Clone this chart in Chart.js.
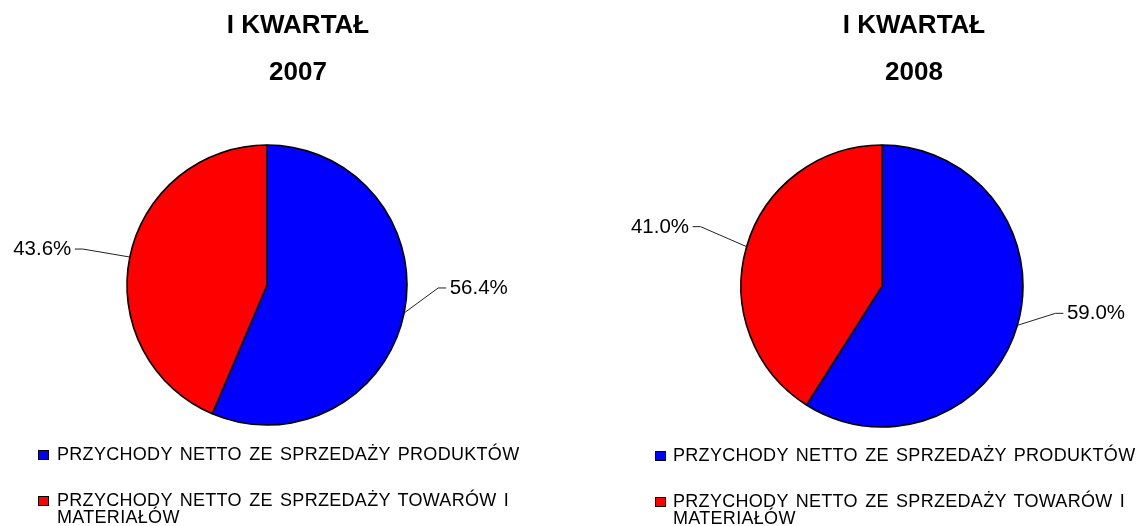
<!DOCTYPE html>
<html>
<head>
<meta charset="utf-8">
<script src="https://cdn.jsdelivr.net/npm/chart.js@4/dist/chart.umd.min.js"></script>
<style>
  html, body { margin: 0; padding: 0; background: #fff; overflow: hidden; }
  body { width: 1138px; height: 526px; position: relative; font-family: "Liberation Sans", Arial, sans-serif; color: #000; }
  .box { position: absolute; }
  .title { position: absolute; width: 300px; text-align: center; font-weight: bold; font-size: 26px; line-height: 26px; white-space: nowrap; }
  .leg { position: absolute; font-size: 18px; line-height: 17px; letter-spacing: 0.3px; word-spacing: 2px; width: 480px; }
  .leg .mark { position: absolute; width: 9px; height: 8px; border: 1px solid #000; }
</style>
</head>
<body>
<div class="box" style="left:0;top:0;width:534px;height:526px"><canvas id="pie2007" width="534" height="526"></canvas></div>
<div class="box" style="left:602px;top:0;width:560px;height:526px"><canvas id="pie2008" width="560" height="526"></canvas></div>
<script>
// dane z wykresu
const titleLine = 'I KWARTAŁ';
const periods = ['2007', '2008'];
const categories = [
  'PRZYCHODY NETTO ZE SPRZEDAŻY PRODUKTÓW',
  'PRZYCHODY NETTO ZE SPRZEDAŻY TOWARÓW I MATERIAŁÓW'
];
const values2007 = [56.4, 43.6];
const values2008 = [59.0, 41.0];
const sliceColors = ['#0000FF', '#FF0000'];

// etykiety procentowe z linia odniesienia
const leaderLabels = {
  id: 'leaderLabels',
  afterDatasetsDraw(chart, args, opts) {
    const ctx = chart.ctx;
    const meta = chart.getDatasetMeta(0);
    const values = chart.data.datasets[0].data;
    meta.data.forEach(function(arc, i) {
      const p = arc.getProps(['x', 'y', 'startAngle', 'endAngle', 'outerRadius'], true);
      const mid = (p.startAngle + p.endAngle) / 2;
      const ax = p.x + Math.cos(mid) * p.outerRadius;
      const ay = p.y + Math.sin(mid) * p.outerRadius;
      const off = opts.offsets[i];
      const ex = ax + off[0];
      const ey = ay + off[1];
      const dir = off[0] < 0 ? -1 : 1;
      ctx.save();
      ctx.strokeStyle = '#222';
      ctx.lineWidth = 1;
      ctx.beginPath();
      ctx.moveTo(ax, ay);
      ctx.lineTo(ex, ey);
      ctx.lineTo(ex + dir * 8, ey);
      ctx.stroke();
      ctx.font = '20.5px "Liberation Sans", Arial, sans-serif';
      ctx.fillStyle = '#000';
      ctx.textAlign = dir < 0 ? 'right' : 'left';
      ctx.textBaseline = 'alphabetic';
      ctx.fillText(values[i].toFixed(1) + '%', ex + dir * 11.5, ey + 6);
      ctx.restore();
    });
  }
};

function makePie(id, values, radius, padTop, offsets) {
  const ctx = document.getElementById(id).getContext('2d');
  return new Chart(ctx, {
    type: 'pie',
    data: {
      labels: categories,
      datasets: [{
        data: values,
        backgroundColor: sliceColors,
        borderColor: '#000',
        borderWidth: 1.6
      }]
    },
    options: {
      responsive: false,
      devicePixelRatio: 1,
      animation: false,
      radius: radius,
      layout: { padding: { top: padTop, bottom: 0, left: 0, right: 0 } },
      plugins: {
        legend: { display: false },
        tooltip: { enabled: false },
        leaderLabels: { offsets: offsets }
      }
    },
    plugins: [leaderLabels]
  });
}

makePie('pie2007', values2007, 140, 44, [[34, -25], [-47, -8]]);
makePie('pie2008', values2008, 141, 46, [[38, -12], [-46, -20]]);

// tytuly i legendy w HTML
function addTitle(centerX, period) {
  const t1 = document.createElement('div');
  t1.className = 'title';
  t1.style.left = (centerX - 150) + 'px';
  t1.style.top = '11px';
  t1.textContent = titleLine;
  document.body.appendChild(t1);
  const t2 = document.createElement('div');
  t2.className = 'title';
  t2.style.left = (centerX - 150) + 'px';
  t2.style.top = '58px';
  t2.textContent = period;
  document.body.appendChild(t2);
}

function addLegend(textLeft, markLeft, tops) {
  categories.forEach(function(label, i) {
    const item = document.createElement('div');
    item.className = 'leg';
    item.style.left = textLeft + 'px';
    item.style.top = tops[i] + 'px';
    item.textContent = label;
    const mark = document.createElement('span');
    mark.className = 'mark';
    mark.style.background = sliceColors[i];
    mark.style.left = (markLeft - textLeft) + 'px';
    mark.style.top = '4px';
    item.appendChild(mark);
    document.body.appendChild(item);
  });
}

addTitle(298, periods[0]);
addTitle(914, periods[1]);
addLegend(57, 38, [446, 492]);
addLegend(673, 655, [447, 493]);
</script>
</body>
</html>
